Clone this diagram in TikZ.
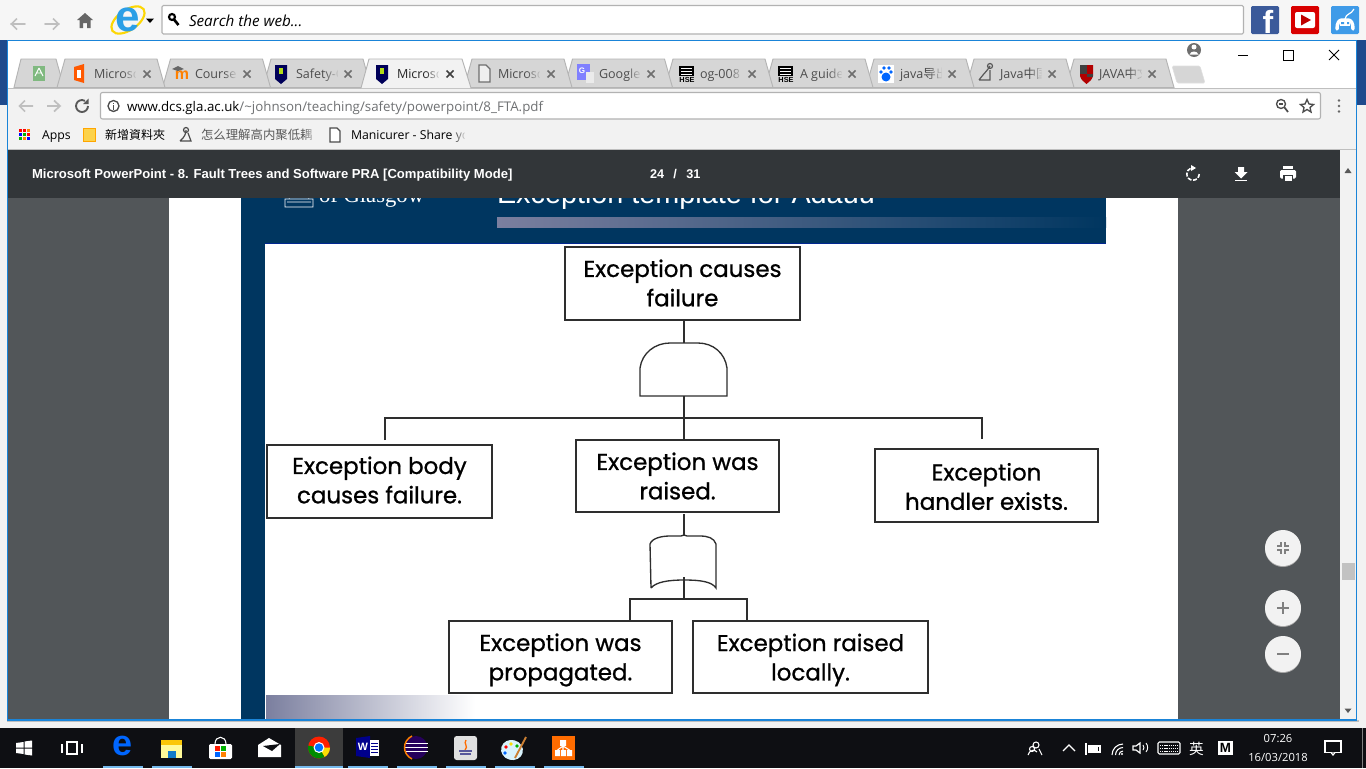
\documentclass[tikz,border=0pt]{standalone}
\usepackage{fontspec}
\setmainfont{Open Sans}
\newfontfamily\cjk{Noto Sans CJK SC}
\newfontfamily\boxfont[FakeBold=0.9]{Poppins}
\newfontfamily\libfont{Liberation Sans}
\newfontfamily\serfont{Liberation Serif}
\definecolor{topbg}{HTML}{F6F6F6}
\definecolor{winblue}{HTML}{1A84D8}
\definecolor{deskblue}{HTML}{1F4A8C}
\definecolor{chromebg}{HTML}{F2F2F2}
\definecolor{tabgray}{HTML}{D6D6D6}
\definecolor{tabedge}{HTML}{B4B4B4}
\definecolor{darkbar}{HTML}{323639}
\definecolor{pagegray}{HTML}{525659}
\definecolor{slideblue}{HTML}{003660}
\definecolor{gradgray}{HTML}{7B7F9F}
\definecolor{inkline}{HTML}{2E2E2E}
\definecolor{taskbg}{HTML}{0E0F13}
\definecolor{tasksel}{HTML}{3C3C3C}
\definecolor{taskline}{HTML}{76B9ED}
\definecolor{uigray}{HTML}{6E6E6E}
\definecolor{urlgray}{HTML}{6F7173}
\definecolor{fbblue}{HTML}{3B5A9A}
\definecolor{padblue}{HTML}{3F9BE8}
\definecolor{ieblue}{HTML}{2B9FE6}
\tikzset{
  x=0.75pt,y=-0.75pt,
  lbl/.style={inner sep=0pt,outer sep=0pt,anchor=base west,text=#1},
  lbl/.default=black,
  ftbox/.style={draw=inkline,line width=1.1pt,fill=white,inner sep=0pt,outer sep=0pt},
  fttext/.style={inner sep=0pt,outer sep=0pt,align=center,font=\boxfont\fontsize{17.2}{22}\selectfont,text=black},
  gateline/.style={draw=inkline,line width=1pt,fill=white},
  conn/.style={draw=inkline,line width=1pt},
  tabshape/.style={draw=tabedge,line width=0.7pt,fill=tabgray},
  xmark/.style={draw=uigray,line width=1.2pt},
  taskunder/.style={fill=taskline}
}
\newcommand\lb[6][black]{\node[lbl=#1,font=#5] (#2) at (#3,#4) {#6};}
\newcommand\tabtab[1]{\path[tabshape] (#1,87.5) -- (#1+8,59) -- (#1+100,59) -- (#1+108,87.5) -- cycle;}
\newcommand\tabclose[1]{\draw[xmark] (#1-3.5,70.5) -- (#1+3.5,77.5) (#1-3.5,77.5) -- (#1+3.5,70.5);}
\newcommand\fadeout[3]{\foreach \k in {0,...,7}{\fill[#3,opacity=0.18+\k*0.1] (#1+\k*1.5,#2) rectangle +(1.6,16);}\fill[#3] (#1+12,#2) rectangle +(9,16);}
\newcommand\ftnode[7]{\node[ftbox,minimum width={(#4-#2)*0.75pt},minimum height={(#5-#3)*0.75pt}] (#1) at ({(#2+#4)/2},{(#3+#5)/2}) {};
  \node[fttext] (#1text) at ({(#2+#4)/2},{(#3+#5)/2+#7}) {#6};}
\begin{document}
\begin{tikzpicture}
\useasboundingbox (0,0) rectangle (1366,768);
% desktop behind
\fill[topbg] (0,0) rectangle (1366,40);
\fill[chromebg] (0,105) rectangle (7,728);
\fill[chromebg] (1357,105) rectangle (1366,728);
\fill[deskblue] (0,40) rectangle (7,105);
\fill[deskblue] (1357,40) rectangle (1366,105);
\fill[chromebg] (0,720) rectangle (1366,728);
\fill[black!25] (7,720) rectangle (1359,722);
% top toolbar
\draw[black!25,line width=1.3pt,line cap=round] (11,24) -- (25,24);
\draw[black!25,line width=1.3pt] (17,18.5) -- (11.5,24) -- (17,29.5);
\draw[black!25,line width=1.3pt,line cap=round] (45,24) -- (59,24);
\draw[black!25,line width=1.3pt] (53,18.5) -- (58.5,24) -- (53,29.5);
\fill[black!60] (85,13) -- (93,20) -- (90.5,20) -- (90.5,28) -- (87,28) -- (87,23) -- (83,23) -- (83,28) -- (79.5,28) -- (79.5,20) -- (77,20) -- cycle;
% IE logo
\draw[yellow!75!orange,line width=1.6pt,rotate around={35:(128,20)}] (128,20) ellipse (19 and 10);
\node[lbl=ieblue,anchor=center,font=\libfont\bfseries\fontsize{33}{33}\selectfont] (ielogo) at (128,20) {e};
\fill[black] (146,18.5) -- (154,18.5) -- (150,23) -- cycle;
\path[draw=black!30,fill=white,rounded corners=1pt,line width=0.8pt] (162,5.5) rectangle (1243.5,34);
\draw[black,line width=1.6pt] (172,17) circle (3);
\draw[black,line width=2pt] (174,19.5) -- (178.5,25);
\lb{search}{189}{26}{\itshape\fontsize{11.4}{14}\selectfont}{Search the web...}
% social icons
\fill[fbblue,rounded corners=1pt] (1251,6) rectangle (1279,34);
\node[lbl=white,anchor=base,font=\libfont\bfseries\fontsize{24}{24}\selectfont] (fbf) at (1268,33) {f};
\fill[red!85!black,rounded corners=1pt] (1291,6) rectangle (1319,34);
\fill[white,rounded corners=1.5pt] (1295,12) rectangle (1315,28);
\fill[red!75!black] (1301,14.5) -- (1311,20) -- (1301,25.5) -- cycle;
\fill[padblue,rounded corners=1pt] (1331,6) rectangle (1359,34);
\draw[white,line width=2.6pt,line cap=round,line join=round] (1337,29) .. controls (1337,23) and (1339,20) .. (1342,20) -- (1348,20) .. controls (1351,20) and (1353,23) .. (1353,29);
\fill[white] (1340,20) rectangle (1350,26);
\fill[padblue] (1341,22) rectangle (1344,24) (1347,22) rectangle (1349,24);
\draw[white,line width=0.9pt] (1345,19) .. controls (1346,13) and (1351,15) .. (1354,9);
% browser window
\path[fill=white] (7,40) rectangle (1357,720);
\fill[chromebg] (8,88) rectangle (1356,150);
\draw[black!25,line width=0.7pt] (8,88) -- (1356,88);
\draw[black!25,line width=0.7pt] (8,149.5) -- (1356,149.5);
% tabs
\path[tabshape] (14,87.5) -- (21,59) -- (56,59) -- (64,87.5) -- cycle;
\foreach \tx in {1066,966,866,765,665,564.5,464,263,162.5,57}{\tabtab{\tx}}
\path[draw=tabedge,line width=0.7pt,fill=chromebg] (361,88) -- (369,59) -- (462,59) -- (471,88);
\path[fill=tabgray,draw=black!12,rounded corners=1pt] (1172,66) -- (1200,66) -- (1205,83) -- (1177,83) -- cycle;
% favicons
\fill[green!45!black!50!white] (33,66) rectangle (45,81);
\draw[white,line width=0.7pt] (39,68) -- (35,76) (39,68) -- (43,76) (36,73) -- (42,73);
\fill[orange!70!red] (74,67) -- (84,64) -- (84,83) -- (74,80) -- cycle;
\fill[white] (77,70) rectangle (81,78);
\node[lbl=orange,anchor=center,font=\libfont\bfseries\fontsize{12}{12}\selectfont] (moodle) at (182,75) {m};
\fill[black!60] (172,69) -- (178,66) -- (184,69) -- (178,71) -- cycle;
\foreach \sx in {281,382}{
  \fill[blue!35!black] (\sx-6,65) rectangle (\sx+6,79) (\sx-6,79) -- (\sx+6,79) -- (\sx,84) -- cycle;
  \fill[yellow!70!green] (\sx-2,68) rectangle (\sx+2,74);
}
\draw[uigray,line width=0.9pt,fill=tabgray!40] (479,65) -- (486,65) -- (490,69) -- (490,82) -- (479,82) -- cycle;
\fill[blue!50!white] (577,64) rectangle (590,80);
\fill[black!8] (586,72) rectangle (594,83);
\node[lbl=white,anchor=center,font=\libfont\bfseries\fontsize{6}{6}\selectfont] (gico) at (582,71) {G};
\foreach \hx in {687,786}{
  \fill[black] (\hx-8,66) rectangle (\hx+7,76);
  \foreach \hy in {68,71,74}{\fill[white] (\hx-6,\hy) rectangle (\hx+5,\hy+1);}
  \node[lbl=black,anchor=center,font=\libfont\bfseries\fontsize{5.5}{6}\selectfont] (hse\hx) at (\hx,80) {HSE};
}
\fill[white] (878,65) rectangle (894,83);
\fill[blue!60!cyan] (886,77) circle (4.5);
\foreach \bx/\by in {881/72,884/68,889/68,891/72}{\fill[blue!60!cyan] (\bx,\by) circle (1.8);}
\draw[black!65,line width=0.9pt] (979,80) .. controls (985,72) and (988,70) .. (990,66) (990,66) circle (2.5) (990,70) -- (990,80) -- (979,80);
\fill[red!70!black] (1080,65) -- (1093,65) -- (1093,76) .. controls (1092,80) and (1089,82) .. (1086.5,84) .. controls (1084,82) and (1081,80) .. (1080,76) -- cycle;
\fill[black!75] (1080,65) rectangle (1086.5,74);\fill[black!75] (1086.5,74) rectangle (1093,77);
% tab labels
\foreach \lx/\ln/\lt in {94/a/Microsc,195/b/Course:,296/c/Safety-C,498/e/Microsc,599/f/Google,700/g/og-008,800/h/A guide}{
  \node[lbl=black!70,font=\fontsize{9.4}{12}\selectfont] (tab\ln) at (\lx,78) {\lt};
}
\node[lbl=black!85,font=\fontsize{9.4}{12}\selectfont] (tabd) at (397,78) {Microsc};
\node[lbl=black!70,font=\fontsize{9.4}{12}\selectfont] (tabi) at (900,78) {java{\cjk 导出}};
\node[lbl=black!70,font=\fontsize{9.4}{12}\selectfont] (tabj) at (1000,78) {Java{\cjk 中国}};
\node[lbl=black!70,font=\fontsize{9.4}{12}\selectfont] (tabk) at (1099,78) {JAVA{\cjk 中文}};
\foreach \fx in {124,225,326,528,629,730,830,930,1030,1130}{\fadeout{\fx}{66}{tabgray}}
\fadeout{427}{66}{chromebg}
\foreach \cx in {147,247,348,551,651,752,852,952,1052,1152}{\tabclose{\cx}}
\draw[xmark,draw=black!75] (446.5,70.5) -- (453.5,77.5) (446.5,77.5) -- (453.5,70.5);
% window controls
\fill[uigray] (1194,50) circle (7);
\fill[white] (1194,47) circle (2.5);
\fill[white] (1189.5,54.5) .. controls (1191,50.5) and (1197,50.5) .. (1198.5,54.5) -- cycle;
\draw[black,line width=0.7pt] (1238,55) -- (1248,55);
\draw[black,line width=0.7pt] (1283,50) rectangle (1293,60);
\draw[black,line width=0.7pt] (1329,50) -- (1339,60) (1329,60) -- (1339,50);
% nav row
\draw[black!25,line width=1.3pt] (20,106) -- (33,106) (25,100.5) -- (19.5,106) -- (25,111.5);
\draw[black!25,line width=1.3pt] (47,106) -- (60,106) (54,100.5) -- (60,106) -- (54,111.5);
\draw[black!65,line width=1.4pt] (88,106) arc (0:300:6);
\fill[black!65] (88.5,98.5) -- (88.5,104) -- (83,104) -- cycle;
\path[draw=black!30,fill=white,rounded corners=1.5pt,line width=0.8pt] (100.5,92.5) rectangle (1320.5,119);
\draw[black!70,line width=1pt] (113.5,106) circle (5.5);
\fill[black!70] (113,105) rectangle (114,109.5);\fill[black!70] (113,102.5) rectangle (114,103.5);
\node[lbl=black,font=\fontsize{9.98}{12}\selectfont] (urlhost) at (127,111) {www.dcs.gla.ac.uk\textcolor{urlgray}{/\textasciitilde johnson/teaching/safety/powerpoint/8\_FTA.pdf}};
\draw[black!70,line width=1pt] (1281,104) circle (4.5);
\draw[black!70,line width=1.3pt] (1284.5,107.5) -- (1288,112);
\draw[black!70,line width=0.8pt] (1279,104) -- (1283,104);
\draw[black!70,line width=1pt] (1307,99.5) -- (1309,104) -- (1313.5,104.5) -- (1310,107.5) -- (1311,112) -- (1307,109.5) -- (1303,112) -- (1304,107.5) -- (1300.5,104.5) -- (1305,104) -- cycle;
\foreach \dy in {100.5,106,111.5}{\fill[black!60] (1339,\dy) circle (1.4);}
% bookmarks
\foreach \ax/\ay/\ac in {0/0/red,1/0/red,2/0/orange,0/1/blue,1/1/green!70!black,2/1/red,0/2/green!70!black,1/2/orange,2/2/blue}{\fill[\ac] (19+\ax*4.2,129+\ay*4.2) rectangle +(3,3);}
\lb{bmapps}{42}{139}{\fontsize{9.2}{12}\selectfont}{Apps}
\path[fill=yellow!55!orange!70!white,draw=orange!70!yellow,line width=0.6pt] (83.5,128) rectangle (95,141.5);
\lb{bmfolder}{105}{139}{\cjk\fontsize{9}{12}\selectfont}{新增資料夾}
\draw[black!70,line width=0.9pt] (180,141) .. controls (185,137) and (186,133) .. (186,130) (186,130) circle (2.5) (188,133) -- (191,141) -- (180,141);
\lb[black!65]{bmzen}{201}{139}{\cjk\fontsize{9.3}{12}\selectfont}{怎么理解高内聚低耦}
\fadeout{305}{126}{chromebg}
\draw[black!70,line width=0.8pt,fill=white] (330,128) -- (337,128) -- (340,131) -- (340,142) -- (330,142) -- cycle;
\lb{bmmani}{351}{139}{\fontsize{9.2}{12}\selectfont}{Manicurer - Share yo}
\fadeout{453}{126}{chromebg}
% page
\fill[pagegray] (8,198) rectangle (1340,720);
\fill[white] (169,198) rectangle (1178,720);
\fill[slideblue] (241,198) rectangle (1106,720);
\fill[white] (1106,198) rectangle (1178,720);
\fill[white] (265,243) rectangle (1106,695);
\draw[blue!30!slideblue,line width=0.7pt] (265,243.5) -- (1106,243.5);
\fill[white] (265,695) rectangle (1106,720);
\shade[left color=gradgray,right color=white] (266,695) rectangle (475,720);
% slide heading, cut by the bar above
\node[lbl=white,font=\libfont\fontsize{21.6}{24}\selectfont] (slidetitle) at (497,203) {Exception template for Adauu};
\node[lbl=white!80,font=\serfont\fontsize{17}{18}\selectfont] (unilogo) at (319,202) {of Glasgow};
\draw[white!75,line width=0.7pt] (285,199) rectangle (313,207) (289,198) -- (292,194) (309,198) -- (306,194) (287,202) -- (311,202);
\shade[left color=gradgray,right color=slideblue] (497,217) rectangle (1106,227);
\fill[darkbar] (8,150) rectangle (1340,198);
\lb[white!90]{doctitle}{32}{178}{\libfont\bfseries\fontsize{9.8}{12}\selectfont}{Microsoft PowerPoint - 8. Fault Trees and Software PRA [Compatibility Mode]}
\lb[white!90]{pagenum}{650}{178}{\libfont\bfseries\fontsize{9.5}{12}\selectfont}{24\hspace{7pt}/\hspace{7pt}31}
\draw[white,line width=1.2pt,dash pattern=on 3pt off 1.2pt] (1199.2,174) arc (0:250:6.2);
\fill[white] (1191,165) -- (1196,168) -- (1191,171) -- cycle;
\fill[white] (1238,167) rectangle (1244,172) (1234.5,172) -- (1247.5,172) -- (1241,178.5) -- cycle;
\fill[white] (1235,179.5) rectangle (1247,181);
\fill[white,rounded corners=1pt] (1280,170) rectangle (1296,178.5);
\fill[white] (1283,166) rectangle (1293,169);
\fill[darkbar] (1283,174.5) rectangle (1293,178.5);
\fill[white] (1284.5,175.5) rectangle (1291.5,181);
% scroll bar
\fill[chromebg] (1340,150) rectangle (1356,720);
\fill[black!65] (1344.5,173) -- (1348,168) -- (1351.5,173) -- cycle;
\fill[black!65] (1344.5,708.5) -- (1348,713) -- (1351.5,708.5) -- cycle;
\fill[black!24] (1342,563) rectangle (1355,580);
\draw[winblue,line width=0.8pt] (7.5,720) -- (7.5,40.5) -- (1356.5,40.5) -- (1356.5,720) -- cycle;
% viewer buttons
\foreach \by in {548,608,654}{\fill[black!35] (1283,\by+1) circle (18);\fill[chromebg] (1283,\by) circle (18);}
\draw[black!50,line width=1pt] (1281,542) -- (1281,546) -- (1277,546) (1285,542) -- (1285,546) -- (1289,546) (1277,550) -- (1281,550) -- (1281,554) (1289,550) -- (1285,550) -- (1285,554);
\draw[black!50,line width=1.4pt] (1277,608) -- (1289,608) (1283,602) -- (1283,614);
\draw[black!50,line width=1.4pt] (1277,654) -- (1289,654);
% fault tree
\ftnode{top}{565}{247}{800}{320}{Exception causes\\failure}{-0.5}
\ftnode{body}{267}{445}{492}{518}{Exception body\\causes failure.}{-1.5}
\ftnode{raised}{576}{440}{779}{512}{Exception was\\raised.}{0}
\ftnode{handler}{875}{449}{1098}{522}{Exception\\handler exists.}{1}
\ftnode{propag}{449}{621}{672}{693}{Exception was\\propagated.}{3}
\ftnode{local}{693}{621}{928}{693}{Exception raised\\locally.}{3}
% AND gate
\coordinate (andtop) at (684,343);
\coordinate (andbot) at (684,396);
\coordinate (andbar) at (684,418);
\path[gateline] (640,396) -- (640,368) .. controls (642,353) and (655,343) .. (670,343) -- (698,343) .. controls (713,343) and (725,353) .. (727,368) -- (727,396) -- cycle;
\coordinate (leftdrop) at (385,440);
\coordinate (rightdrop) at (982,439);
\draw[conn] (top.south -| andtop) -- (andtop);
\draw[conn] (andbot) -- (raised.north -| andtop);
\draw[conn] (leftdrop) |- (andbar) -| (rightdrop);
% OR gate
\coordinate (ortop) at (684,535);
\coordinate (orlow) at (684,577);
\coordinate (orbar) at (684,599);
\coordinate (stemtop) at (684,514);
\path[gateline,fill=white] (651,588) -- (650,544) .. controls (652,538) and (662,536) .. (670,536) -- (681,536) -- (684,535) -- (687,536) -- (700,536) .. controls (708,536) and (714,538) .. (716,544) -- (716,588) .. controls (712,582) and (702,580) .. (684,580) .. controls (668,580) and (656,582) .. (651,588);
\draw[conn] (stemtop) -- (ortop);
\draw[conn] (orlow) -- (orbar);
\draw[conn] (propag.north -| 630,0) |- (orbar) -| (local.north -| 747,0);
% taskbar
\fill[taskbg] (0,728) rectangle (1366,768);
\fill[tasksel] (295,728) rectangle (343,768);
\foreach \ux/\uw in {103/40,152/40,295/48,348/40,397/40,446/40,495/40,544/40}{\fill[taskunder] (\ux,766) rectangle +(\uw,2);}
\fill[white] (16,743) -- (23.5,742) -- (23.5,747.5) -- (16,747.5) -- cycle (24.5,741.5) -- (32,740.5) -- (32,747.5) -- (24.5,747.5) -- cycle (16,748.5) -- (23.5,748.5) -- (23.5,754) -- (16,753) -- cycle (24.5,748.5) -- (32,748.5) -- (32,755.5) -- (24.5,754.5) -- cycle;
\draw[white,line width=0.8pt] (67,742) rectangle (77,754) (62,744) -- (62,753) (82,744) -- (82,753);
\node[lbl=blue!60!cyan,anchor=center,font=\libfont\bfseries\fontsize{27}{27}\selectfont] (edgeico) at (123,746) {e};
\fill[yellow!60!orange] (161,740) rectangle (182,758);
\fill[yellow!40] (161,745) rectangle (182,758);
\fill[cyan!60!blue] (168,751) rectangle (176,758);
\fill[white,rounded corners=1pt] (209,744) rectangle (232,759);
\draw[white,line width=0.8pt] (215,744) .. controls (215,735) and (226,735) .. (226,744);
\fill[red!80!orange] (215,746) rectangle (220,751);\fill[green!70!black] (221,746) rectangle (226,751);
\fill[blue!60!cyan] (215,752) rectangle (220,757);\fill[orange] (221,752) rectangle (226,757);
\fill[white] (258,745) -- (269,738) -- (281,745) -- (281,757) -- (258,757) -- cycle;
\fill[taskbg] (263,746) -- (280,744) -- (272,751) -- cycle;
% chrome: angles grow clockwise on screen here
\fill[red!75!orange] (319,747.5) circle (11);
\fill[yellow!80!orange] (319,747.5) -- (330,747.5) arc (0:60:11) -- cycle;
\fill[green!55!black] (319,747.5) -- (324.5,757) arc (60:190:11) -- cycle;
\fill[white] (319,747.5) circle (5.5);
\fill[blue!55!cyan] (319,747.5) circle (4.2);
% word
\fill[blue!55!black] (356,738) -- (370,736) -- (370,758) -- (356,756) -- cycle;
\fill[white] (370,740) rectangle (379,756);
\foreach \wy in {743,746,749,752}{\fill[blue!55!black] (371,\wy) rectangle (378,\wy+1);}
\node[lbl=white,anchor=center,font=\libfont\bfseries\fontsize{8}{8}\selectfont] (wordw) at (363,747) {W};
% eclipse
\fill[blue!30!black!70!violet] (416,747.5) circle (11.5);
\foreach \ey in {743,747,751}{\fill[white] (404.5,\ey) rectangle (428,\ey+1.2);}
\draw[orange,line width=1.1pt] (412,736) .. controls (402,741) and (402,754) .. (412,759);
% java
\fill[white!88!black,rounded corners=2pt] (454,736) rectangle (477,760);
\draw[orange!85!red,line width=1pt] (466,740) .. controls (463,744) and (469,746) .. (465,750);
\draw[blue!40!black!65,line width=1pt] (459,751) -- (472,751) (460,754) -- (471,754);
% paint
\fill[white!85!cyan,rotate around={-15:(512,750)}] (512,750) ellipse (11 and 10);
\foreach \pax/\pay/\pac in {506/747/red,511/744/yellow!80!orange,517/746/green!70!black,505/753/blue!60!cyan}{\fill[\pac] (\pax,\pay) circle (1.8);}
\draw[brown!80!orange,line width=1.4pt] (526,737) -- (515,758);
% orange app
\fill[orange!85!red] (552,736) rectangle (575,760);
\fill[white] (560,740) rectangle (566,746) (555,750) rectangle (560,756) (561,750) rectangle (566,756) (567,750) rectangle (572,756);
\draw[white,line width=0.8pt] (563,746) -- (563,750) (557.5,750) -- (563,746) -- (569.5,750);
% tray
\draw[white,line width=0.8pt] (1036,745) circle (3) (1028,755) .. controls (1029,750) and (1035,749) .. (1037,752) (1032,749) circle (2.5) (1039,749) -- (1042,755);
\draw[white,line width=0.9pt] (1063,751) -- (1069,745) -- (1075,751);
\draw[white,line width=0.9pt] (1089,746) rectangle (1100,752);
\fill[white] (1089,746) rectangle (1098,752);
\draw[white,line width=0.9pt] (1086,743) -- (1086,755);
\draw[white!65,line width=0.8pt] (1112,755) arc (180:270:11) (1115.5,755) arc (180:270:7.5) (1119,755) arc (180:270:4);
\fill[white!65] (1122,754) circle (1.2);
\draw[white,line width=0.9pt] (1133,746) -- (1136,746) -- (1140,743) -- (1140,753) -- (1136,750) -- (1133,750) -- cycle;
\draw[white,line width=0.7pt] (1143,745) arc (-40:40:4) (1146,743) arc (-40:40:7);
\draw[white,line width=0.8pt,rounded corners=1pt] (1158,742) rectangle (1180,754);
\foreach \ky in {745,748,751}{\draw[white,line width=0.7pt,dash pattern=on 1pt off 0.6pt] (1160,\ky) -- (1178,\ky);}
\lb[white]{imeying}{1189}{754}{\cjk\fontsize{11}{12}\selectfont}{英}
\fill[white] (1218,741) rectangle (1233,755);
\node[lbl=black,anchor=center,font=\libfont\bfseries\fontsize{10}{10}\selectfont] (imem) at (1225.5,748) {M};
\node[lbl=white,anchor=base,font=\fontsize{8.4}{10}\selectfont] (clocktime) at (1278,742) {07:26};
\node[lbl=white,anchor=base,font=\fontsize{8.4}{10}\selectfont] (clockdate) at (1278,761) {16/03/2018};
\draw[white,line width=0.9pt] (1325,741) rectangle (1341,752.5);
\draw[white,line width=0.9pt,fill=taskbg] (1331,752.5) -- (1333,755) -- (1335,752.5);
\fill[black!50] (1361.5,728) rectangle (1362.5,768);
\end{tikzpicture}
\end{document}
